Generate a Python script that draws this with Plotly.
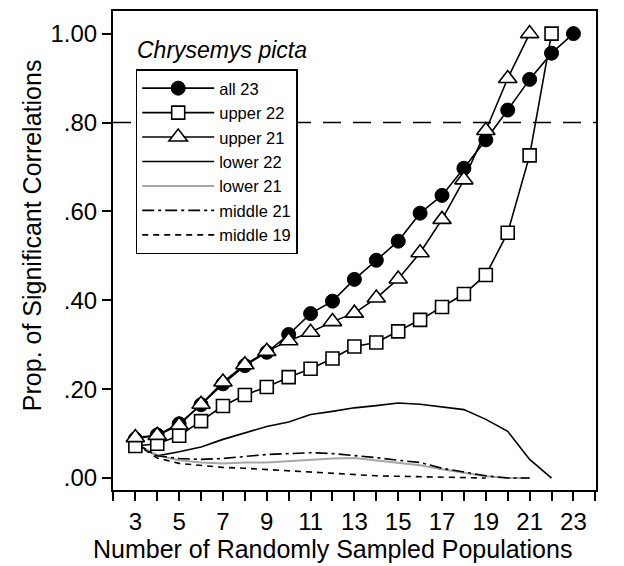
import plotly.graph_objects as go

# ---- data ----
x_all23 = list(range(3, 24))
all23 = [0.088, 0.097, 0.122, 0.165, 0.212, 0.253, 0.283, 0.323, 0.370, 0.398,
         0.447, 0.490, 0.533, 0.596, 0.636, 0.697, 0.761, 0.828, 0.897, 0.956, 1.000]

x_upper22 = list(range(3, 23))
upper22 = [0.072, 0.077, 0.095, 0.128, 0.162, 0.187, 0.205, 0.227, 0.246, 0.269,
           0.296, 0.305, 0.330, 0.356, 0.385, 0.414, 0.457, 0.552, 0.726, 1.000]

x_upper21 = list(range(3, 22))
upper21 = [0.091, 0.096, 0.119, 0.166, 0.216, 0.255, 0.285, 0.309, 0.328, 0.352,
           0.371, 0.405, 0.448, 0.507, 0.582, 0.671, 0.782, 0.899, 1.000]

x_lower22 = list(range(3, 23))
lower22 = [0.078, 0.050, 0.059, 0.070, 0.087, 0.102, 0.116, 0.126, 0.143, 0.150,
           0.158, 0.163, 0.169, 0.166, 0.160, 0.154, 0.132, 0.105, 0.042, 0.000]

x_lower21 = list(range(3, 22))
lower21 = [0.078, 0.051, 0.040, 0.035, 0.033, 0.035, 0.035, 0.038, 0.042, 0.044,
           0.045, 0.040, 0.034, 0.029, 0.020, 0.012, 0.004, 0.000, 0.000]

x_middle21 = list(range(3, 22))
middle21 = [0.078, 0.050, 0.044, 0.042, 0.044, 0.048, 0.053, 0.055, 0.057, 0.055,
            0.051, 0.046, 0.040, 0.035, 0.022, 0.014, 0.005, 0.000, 0.000]

x_middle19 = list(range(3, 20))
middle19 = [0.078, 0.045, 0.033, 0.028, 0.024, 0.022, 0.019, 0.016, 0.013, 0.011,
            0.007, 0.005, 0.004, 0.003, 0.002, 0.001, 0.000]

x_tick_vals = list(range(2, 25))
x_tick_labels = [str(v) if v % 2 == 1 else "" for v in x_tick_vals]
y_tick_vals = [0.0, 0.2, 0.4, 0.6, 0.8, 1.0]
y_tick_labels = [".00", ".20", ".40", ".60", ".80", "1.00"]
reference_level = 0.80
species = "Chrysemys picta"
x_title = "Number of Randomly Sampled Populations"
y_title = "Prop. of Significant Correlations"

FONT = "Liberation Sans, Arial, Helvetica, sans-serif"

fig = go.Figure()

# lines (drawn first, underneath)
fig.add_trace(go.Scatter(x=x_lower22, y=lower22, mode="lines", name="lower 22",
                         line=dict(color="black", width=1.6), legendrank=4))
fig.add_trace(go.Scatter(x=x_lower21, y=lower21, mode="lines", name="lower 21",
                         line=dict(color="#a6a6a6", width=2), legendrank=5))
fig.add_trace(go.Scatter(x=x_middle21, y=middle21, mode="lines", name="middle 21",
                         line=dict(color="black", width=1.6, dash="12px,4px,3px,4px"),
                         legendrank=6))
fig.add_trace(go.Scatter(x=x_middle19, y=middle19, mode="lines", name="middle 19",
                         line=dict(color="black", width=1.6, dash="6px,5px"),
                         legendrank=7))

# marker series
fig.add_trace(go.Scatter(x=x_all23, y=all23, mode="lines+markers", name="all 23",
                         line=dict(color="black", width=1.6),
                         marker=dict(symbol="circle", size=14, color="black",
                                     line=dict(color="black", width=1)),
                         legendrank=1))
fig.add_trace(go.Scatter(x=x_upper22, y=upper22, mode="lines+markers", name="upper 22",
                         line=dict(color="black", width=1.6),
                         marker=dict(symbol="square", size=13, color="white",
                                     line=dict(color="black", width=1.6)),
                         legendrank=2))
fig.add_trace(go.Scatter(x=x_upper21, y=upper21, mode="lines+markers", name="upper 21",
                         line=dict(color="black", width=1.6),
                         marker=dict(symbol="triangle-up", size=16, color="white",
                                     line=dict(color="black", width=1.6)),
                         legendrank=3))

fig.add_hline(y=reference_level, line=dict(color="black", width=1.5, dash="18px,12px"),
              layer="below")

fig.add_annotation(text=species, x=0.045, y=0.919, xref="paper", yref="paper",
                   xanchor="left", yanchor="middle", showarrow=False,
                   font=dict(family=FONT, size=23, color="black", style="italic"))

# axis titles (placed as in the reference, slightly off the plot centre)
fig.add_annotation(text=x_title, x=0.455, y=0, xref="paper", yref="paper",
                   xanchor="center", yanchor="middle", yshift=-59, showarrow=False,
                   font=dict(family=FONT, size=25, color="black"))
fig.add_annotation(text=y_title, x=0, y=0.532, xref="paper", yref="paper",
                   xanchor="center", yanchor="middle", xshift=-81, textangle=-90,
                   showarrow=False, font=dict(family=FONT, size=25, color="black"))

# page body has an 8px margin, so the figure is sized to fit the 624x566 window
fig.update_layout(
    width=616, height=558,
    margin=dict(l=105, r=28, t=1, b=76),
    paper_bgcolor="white", plot_bgcolor="white",
    font=dict(family=FONT, color="black"),
    showlegend=True,
    legend=dict(x=0.047, y=0.878, xanchor="left", yanchor="top",
                bgcolor="white", bordercolor="black", borderwidth=1.5,
                font=dict(family=FONT, size=16.5, color="black"),
                itemwidth=72, tracegroupgap=0),
    xaxis=dict(range=[1.98, 24.03], tickmode="array", tickvals=x_tick_vals,
               ticktext=x_tick_labels, ticks="outside", ticklen=9, tickwidth=1.8,
               tickcolor="black", showline=True, linecolor="black", linewidth=2,
               mirror=True, showgrid=False, zeroline=False,
               tickfont=dict(family=FONT, size=24)),
    yaxis=dict(range=[-0.0269, 1.0509], tickmode="array", tickvals=y_tick_vals,
               ticktext=y_tick_labels, ticks="outside", ticklen=9, tickwidth=1.8,
               tickcolor="black", showline=True, linecolor="black", linewidth=2,
               mirror=True, showgrid=False, zeroline=False,
               tickfont=dict(family=FONT, size=24)),
)

fig.write_html("out.html")
